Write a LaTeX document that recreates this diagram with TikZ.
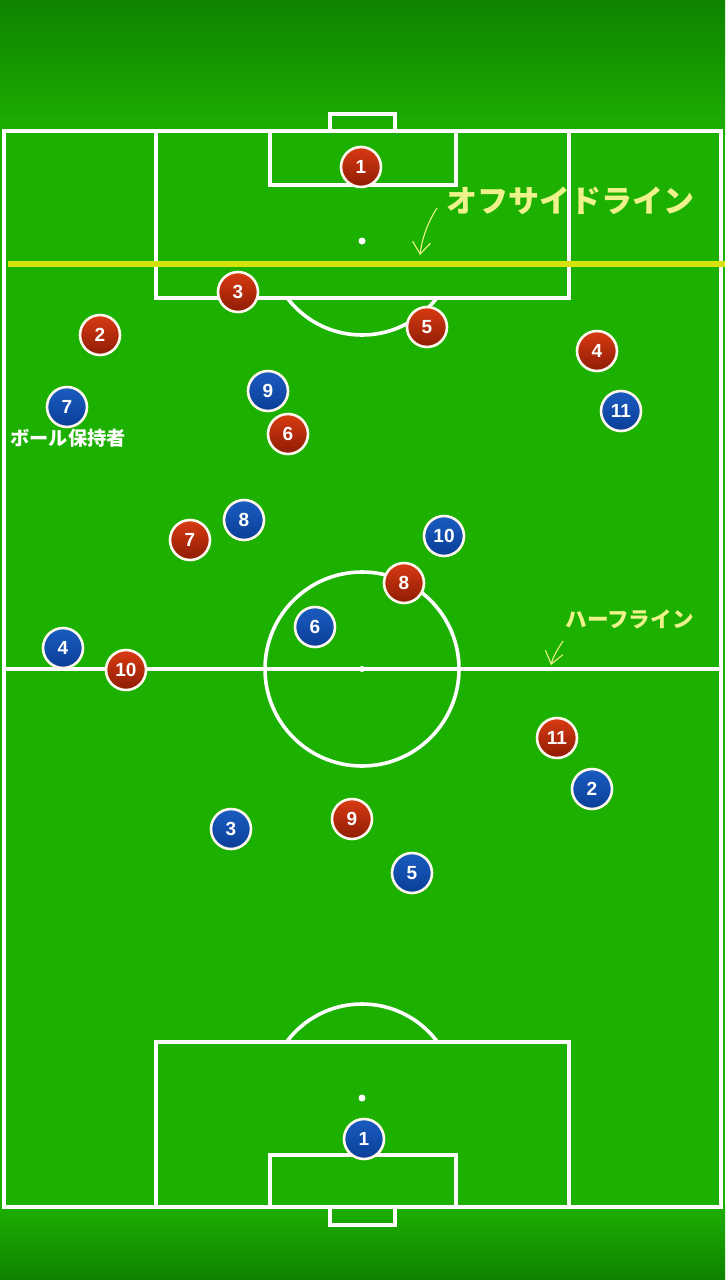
\documentclass[tikz,border=0pt]{standalone}
\usepackage{fontspec}
\setmainfont{Liberation Sans}
\newfontfamily\jp{Noto Sans CJK JP}
\usetikzlibrary{arrows.meta}
\definecolor{fieldg}{HTML}{1CB000}
\definecolor{topg}{HTML}{0F8200}
\definecolor{offy}{HTML}{D6E20A}
\definecolor{offtext}{HTML}{EEF28C}
\definecolor{redT}{HTML}{D93A12}
\definecolor{redB}{HTML}{8E1C04}
\definecolor{blueT}{HTML}{1A5CC0}
\definecolor{blueB}{HTML}{0A3E98}
\definecolor{ringw}{HTML}{FFF8EE}
\tikzset{
  pline/.style={draw=white, line width=1.8pt},
  player/.style={circle, minimum size=20pt, inner sep=0pt, draw=ringw, line width=1.3pt,
    text=white, font=\bfseries\fontsize{9.5}{10}\selectfont},
  redp/.style={player, top color=redT, bottom color=redB},
  bluep/.style={player, top color=blueT, bottom color=blueB},
  note/.style={inner sep=0pt, anchor=west},
  hand/.style={draw=offtext, line width=0.55pt, -{Straight Barb[length=6pt,width=9pt]}}
}
\begin{document}
\begin{tikzpicture}[x=0.5pt,y=-0.5pt]
\useasboundingbox (0,0) rectangle (725,1280);
% background
\fill[fieldg] (0,0) rectangle (725,1280);
\shade[top color=topg, bottom color=fieldg] (0,0) rectangle (725,135);
\shade[top color=fieldg, bottom color=topg] (0,1205) rectangle (725,1280);
% pitch lines
\draw[pline] (4,131) rectangle (721,1207);
\draw[pline] (156,131) rectangle (569,298);
\draw[pline] (270,131) rectangle (456,185);
\draw[pline] (330,114) rectangle (395,131);
\draw[pline] (156,1042) rectangle (569,1207);
\draw[pline] (270,1155) rectangle (456,1207);
\draw[pline] (330,1207) rectangle (395,1225);
\draw[pline] (4,669) -- (721,669);
\draw[pline] (362,669) circle (97);
\begin{scope}
  \clip (0,298) rectangle (725,420);
  \draw[pline] (362,241) circle (94);
\end{scope}
\begin{scope}
  \clip (0,940) rectangle (725,1042);
  \draw[pline] (362,1098) circle (94);
\end{scope}
\fill[white] (362,241) circle (3.5);
\fill[white] (362,669) circle (3);
\fill[white] (362,1098) circle (3.5);
% offside line
\draw[offy, line width=3pt] (8,264) -- (725,264);
% red team
\node[redp] (r1) at (361,167) {1};
\node[redp] (r3) at (238,292) {3};
\node[redp] (r2) at (100,335) {2};
\node[redp] (r5) at (427,327) {5};
\node[redp] (r4) at (597,351) {4};
\node[redp] (r6) at (288,434) {6};
\node[redp] (r7) at (190,540) {7};
\node[redp] (r8) at (404,583) {8};
\node[redp] (r10) at (126,670) {10};
\node[redp] (r11) at (557,738) {11};
\node[redp] (r9) at (352,819) {9};
% blue team
\node[bluep] (b7) at (67,407) {7};
\node[bluep] (b9) at (268,391) {9};
\node[bluep] (b11) at (621,411) {11};
\node[bluep] (b8) at (244,520) {8};
\node[bluep] (b10) at (444,536) {10};
\node[bluep] (b6) at (315,627) {6};
\node[bluep] (b4) at (63,648) {4};
\node[bluep] (b2) at (592,789) {2};
\node[bluep] (b3) at (231,829) {3};
\node[bluep] (b5) at (412,873) {5};
\node[bluep] (b1) at (364,1139) {1};
% labels
\node[note, text=offtext, font=\jp\bfseries\fontsize{15.5}{16}\selectfont] (offlbl) at (446,201) {オフサイドライン};
\node[note, text=white, font=\jp\bfseries\fontsize{9.6}{10}\selectfont] (holder) at (10,438) {ボール保持者};
\node[note, text=offtext, font=\jp\bfseries\fontsize{10.8}{11}\selectfont] (halflbl) at (565,619) {ハーフライン};
\coordinate (offA) at (437,208);
\coordinate (offB) at (420,255);
\coordinate (halfA) at (563,641);
\coordinate (halfB) at (551,665);
\draw[hand] (offA) .. controls (428,222) and (422,238) .. (offB);
\draw[hand] (halfA) .. controls (557,650) and (553,657) .. (halfB);
\end{tikzpicture}
\end{document}
